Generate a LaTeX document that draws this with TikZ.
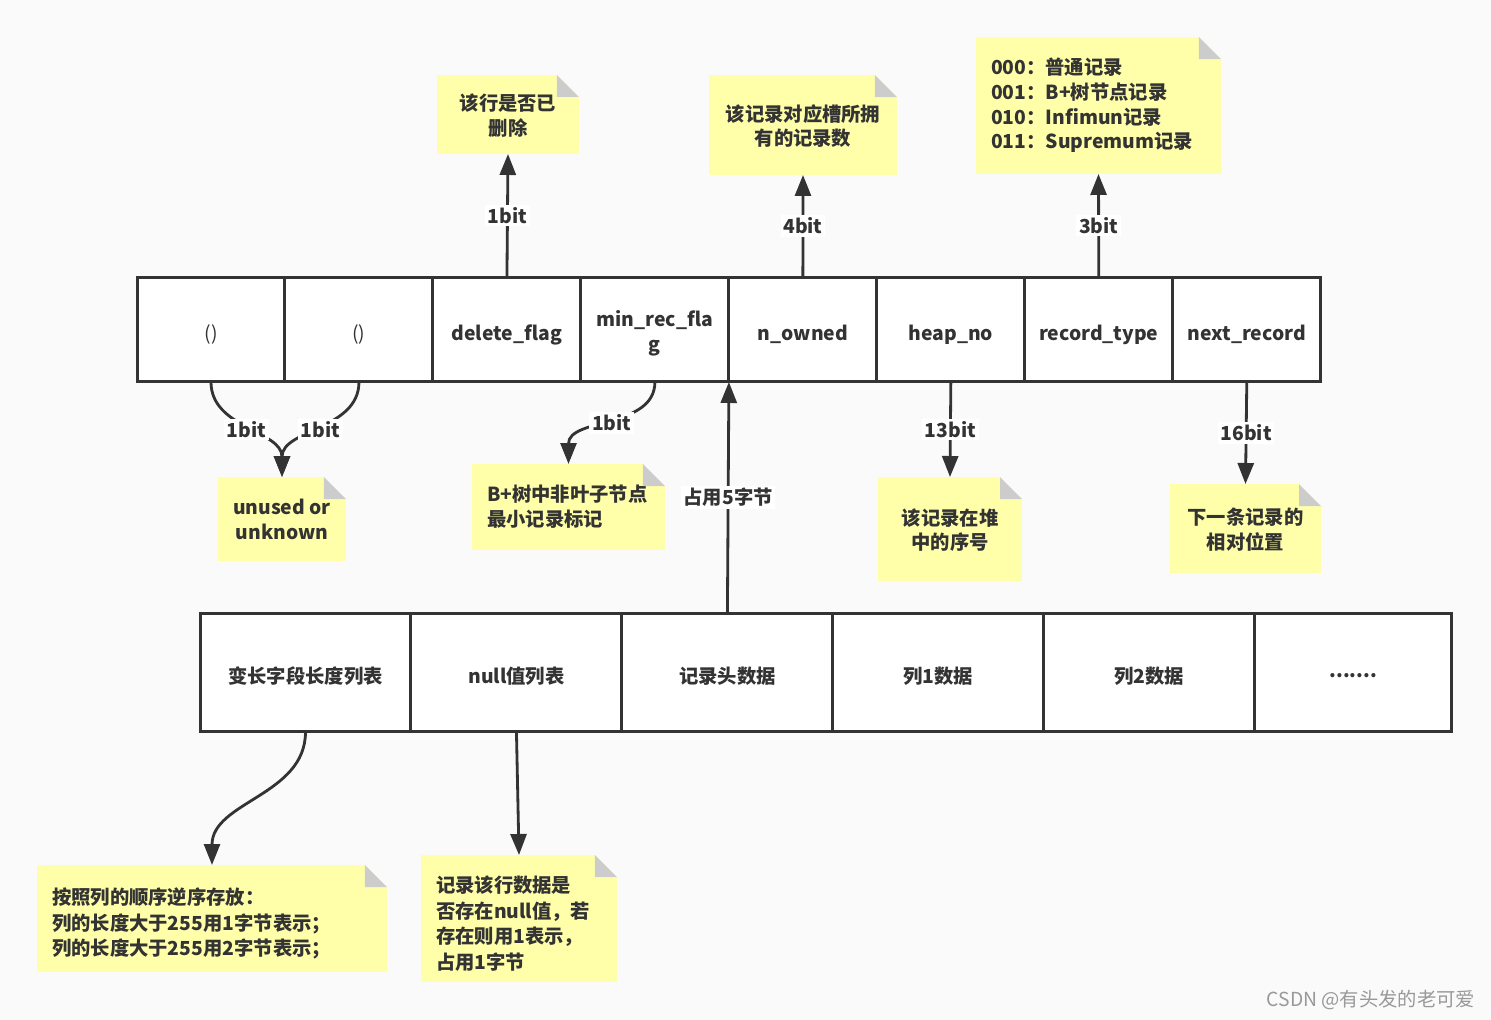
\documentclass[tikz,border=0pt]{standalone}
\usepackage{fontspec}
\setmainfont{Noto Sans CJK SC}
\usetikzlibrary{arrows.meta,positioning}
\definecolor{ink}{HTML}{333333}
\definecolor{paper}{HTML}{FAFAFA}
\definecolor{memoyel}{HTML}{FFFFAA}
\definecolor{earcol}{HTML}{CCCCCC}
% folded corner of a memo node
\newcommand{\dogear}[1]{%
  \fill[paper] ([xshift=-0.44cm]#1.north east) -- (#1.north east) -- ([yshift=-0.44cm]#1.north east) -- cycle;
  \fill[earcol] ([xshift=-0.44cm]#1.north east) -- ([xshift=-0.44cm,yshift=-0.44cm]#1.north east) -- ([yshift=-0.44cm]#1.north east) -- cycle;}

\begin{document}
\begin{tikzpicture}[x=0.02cm, y=-0.02cm,
  font=\bfseries\fontsize{11}{14}\selectfont, text=ink,
  cell/.style={draw=ink, line width=1.7pt, fill=white, outer sep=0pt, inner sep=1pt,
    minimum height=2.1cm, minimum width=2.96cm, align=center,
    text height=14.6pt, text depth=2.4pt},
  bcell/.style={cell, minimum height=2.38cm, minimum width=4.22cm},
  memo/.style={fill=memoyel, inner sep=0pt, outer sep=0pt},
  cmemo/.style={memo, align=center, text depth=-2.2pt},
  lmemo/.style={memo, inner xsep=0.3cm, align=left},
  loose/.style={font=\bfseries\fontsize{11}{14.6}\selectfont, text height=15.5pt},
  arr/.style={draw=ink, line width=1.6pt, -{Triangle[length=0.42cm,width=0.32cm]}},
  lbl/.style={fill=white, inner sep=1.5pt, text=ink}]
  % Background
  \fill[paper] (0,0) rectangle (1491,1020);
  \useasboundingbox (0,0) rectangle (1491,1020);

  % Record header bits
  \node[cell] (c1) at (211,329.5) {\mdseries ()};
  \node[cell, right=0pt of c1] (c2) {\mdseries ()};
  \node[cell, right=0pt of c2] (c3) {delete\_flag};
  \node[cell, right=0pt of c3] (c4) [text height=27.4pt] {min\_rec\_fla\\g};
  \node[cell, right=0pt of c4] (c5) {n\_owned};
  \node[cell, right=0pt of c5] (c6) {heap\_no};
  \node[cell, right=0pt of c6] (c7) {record\_type};
  \node[cell, right=0pt of c7] (c8) {next\_record};

  % Row format
  \node[bcell] (b1) at (305.5,672.5) {变长字段长度列表};
  \node[bcell, right=0pt of b1] (b2) {null值列表};
  \node[bcell, right=0pt of b2] (b3) {记录头数据};
  \node[bcell, right=0pt of b3] (b4) {列1数据};
  \node[bcell, right=0pt of b4] (b5) {列2数据};
  \node[bcell, right=0pt of b5, minimum width=3.94cm] (b6) {\raisebox{0.5ex}{.......}};

  % Memos
  \node[cmemo, minimum width=2.84cm, minimum height=1.58cm] (ndel) at (508,114.5) {该行是否已\\删除};
  \node[cmemo, minimum width=3.76cm, minimum height=2cm] (nown) at (803,125) {该记录对应槽所拥\\有的记录数};
  \node[lmemo, text width=4.3cm, minimum height=2.74cm] (ntype) at (1098.5,105.5)
    {000：普通记录\\001：B+树节点记录\\010：Infimun记录\\011：Supremum记录};
  \node[cmemo, minimum width=2.56cm, minimum height=1.68cm] (nunused) at (282,519) {unused or\\unknown};
  \node[lmemo, text width=3.26cm, minimum height=1.72cm] (nminrec) at (568.5,507) {B+树中非叶子节点\\最小记录标记};
  \node[cmemo, minimum width=2.88cm, minimum height=2.08cm] (nheap) at (950,529) {该记录在堆\\中的序号};
  \node[cmemo, minimum width=3.02cm, minimum height=1.78cm] (nnext) at (1245.5,528.5) {下一条记录的\\相对位置};
  \node[lmemo, loose, text width=6.4cm, minimum height=2.14cm] (nvar) at (212,918.5)
    {按照列的顺序逆序存放：\\列的长度大于255用1字节表示；\\列的长度大于255用2字节表示；};
  \node[lmemo, loose, text width=3.32cm, minimum height=2.54cm] (nnull) at (519,918.5)
    {记录该行数据是\\否存在null值，若\\存在则用1表示，\\占用1字节};
  \foreach \m in {ndel,nown,ntype,nunused,nminrec,nheap,nnext,nvar,nnull}
    {\dogear{\m}}

  % Connectors
  \draw[arr] (c3.north) -- node[lbl] {1bit} (ndel.south);
  \draw[arr] (c5.north) -- node[lbl] {4bit} (nown.south);
  \draw[arr] (c7.north) -- node[lbl] {3bit} (ntype.south);
  \draw[arr] (c1.south) to[out=-90, in=90] node[lbl] {1bit} (nunused.north);
  \draw[arr] (c2.south) to[out=-90, in=90] node[lbl] {1bit} (nunused.north);
  \draw[arr] (c4.south) to[out=-90, in=90] node[lbl] {1bit} (nminrec.north);
  \draw[arr] (c6.south) -- node[lbl] {13bit} (nheap.north);
  \draw[arr] (c8.south) -- node[lbl] {16bit} (nnext.north);
  \draw[arr] (b3.north) -- node[lbl] {占用5字节} (c4.south east);
  \draw[arr] (b1.south) to[out=-90, in=90] (nvar.north);
  \draw[arr] (b2.south) -- (nnull.north);

  % Watermark
  \node[font=\mdseries\fontsize{11}{12}\selectfont, text=black!40] (mark) at (1371,1000) {CSDN @有头发的老可爱};
\end{tikzpicture}
\end{document}
